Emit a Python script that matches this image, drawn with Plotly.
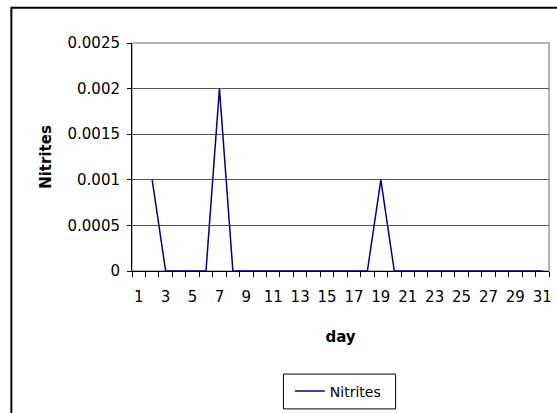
import plotly.graph_objects as go

# Daily nitrite readings (day 1 not recorded)
days = list(range(1, 32))
nitrites = [None, 0.001, 0, 0, 0, 0, 0.002, 0, 0, 0, 0, 0, 0, 0, 0, 0, 0, 0,
            0.001, 0, 0, 0, 0, 0, 0, 0, 0, 0, 0, 0, 0]
x_labels = [str(d) for d in range(1, 32, 2)]
y_ticks = [0, 0.0005, 0.001, 0.0015, 0.002, 0.0025]
y_labels = ["0", "0.0005", "0.001", "0.0015", "0.002", "0.0025"]

W, H = 557, 413
L, R, T, B = 132, 5, 43, 141
pw, ph = W - L - R, H - T - B

def px_x(p):
    return (p - L) / pw

def px_y(p):
    return (H - B - p) / ph

fig = go.Figure()
fig.add_trace(go.Scatter(
    x=days, y=nitrites, mode="lines", name="Nitrites",
    line=dict(color="#000080", width=1.5), connectgaps=False,
))

font = dict(family="DejaVu Sans, Liberation Sans, sans-serif", size=15, color="black")

fig.update_layout(
    width=W, height=H,
    margin=dict(l=L, r=R, t=T, b=B, pad=0),
    paper_bgcolor="white", plot_bgcolor="white",
    font=font,
    showlegend=True,
    legend=dict(
        x=px_x(291), y=px_y(393), xanchor="left", yanchor="middle",
        borderwidth=0, bgcolor="rgba(0,0,0,0)",
        font=dict(size=14),
    ),
    xaxis=dict(
        range=[0.5, 31.5],
        tickmode="array",
        tickvals=list(range(1, 32, 2)),
        ticktext=x_labels,
        ticks="outside", ticklen=0, tickcolor="black",
        ticklabelstandoff=12,
        minor=dict(tick0=0.5, dtick=1, ticks="outside", ticklen=5,
                   tickcolor="black", showgrid=False),
        showgrid=False, zeroline=False,
        showline=True, linecolor="black", linewidth=1,
        title=dict(text="<b>day</b>", font=dict(size=15), standoff=26),
        fixedrange=True,
    ),
    yaxis=dict(
        range=[0, 0.0025],
        tickmode="array", tickvals=y_ticks, ticktext=y_labels,
        ticks="outside", ticklen=4, tickcolor="black",
        ticklabelstandoff=4,
        showgrid=True, gridcolor="#555555", gridwidth=1,
        zeroline=False,
        showline=True, linecolor="black", linewidth=1,
        title=dict(text="<b>Nitrites</b>", font=dict(size=15), standoff=12),
        fixedrange=True,
    ),
    shapes=[
        # plot area frame (top and right edges)
        dict(type="rect", xref="paper", yref="paper", x0=0, x1=1, y0=0, y1=1,
             line=dict(color="#9a9a9a", width=1.5), layer="below"),
        # legend frame
        dict(type="rect", xref="paper", yref="paper",
             x0=px_x(284.5), x1=px_x(397.5), y0=px_y(410.5), y1=px_y(375.5),
             line=dict(color="black", width=1)),
        # chart border (runs past the right and bottom page edges)
        dict(type="rect", xref="paper", yref="paper",
             x0=px_x(10.5), x1=px_x(600), y0=px_y(460), y1=px_y(7.5),
             line=dict(color="black", width=2)),
    ],
)

fig.write_html("out.html")
